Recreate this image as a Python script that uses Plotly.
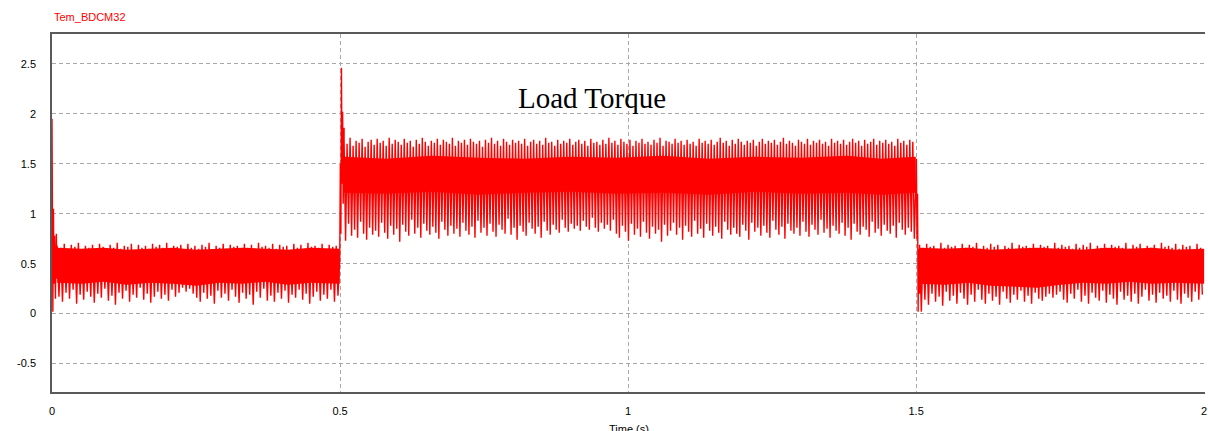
import plotly.graph_objects as go

# ---- Electromagnetic torque Tem_BDCM32 (N*m) vs time (s) ----

# start-up transient (time, torque)
start_t = [0.0, 0.0008, 0.0015, 0.0025, 0.0035, 0.0045, 0.006, 0.0075, 0.009]
start_v = [1.95, 1.20, 0.02, 1.05, 0.30, 0.78, 0.15, 0.80, 0.35]

# load step at 0.5 s
step_on_t = [0.4995, 0.5005, 0.5015, 0.5025, 0.5035, 0.5045, 0.5055, 0.507]
step_on_v = [0.55, 1.50, 0.80, 2.46, 1.30, 2.02, 1.10, 1.86]

# load removal at 1.5 s
step_off_t = [1.4995, 1.5005, 1.5015, 1.5025, 1.5035, 1.5045, 1.506]
step_off_v = [1.40, 1.55, 0.75, 1.20, 0.02, 0.65, 0.20]

# ripple segments: start, end, dense band limits, then cycle crests / troughs
seg1_span = [0.009, 0.4995]
seg1_band_t = [0.009, 0.05, 0.09, 0.13, 0.17, 0.21, 0.25, 0.29, 0.33, 0.37, 0.41, 0.45, 0.4995]
seg1_band_hi = [0.66, 0.65, 0.66, 0.64, 0.65, 0.66, 0.64, 0.65, 0.66, 0.65, 0.64, 0.66, 0.65]
seg1_band_lo = [0.31, 0.30, 0.32, 0.29, 0.31, 0.30, 0.28, 0.31, 0.30, 0.32, 0.29, 0.31, 0.30]
seg1_crest = [0.68, 0.66, 0.70, 0.65, 0.69, 0.67, 0.71, 0.64, 0.68, 0.66,
              0.69, 0.65, 0.70, 0.67, 0.64, 0.69, 0.66, 0.71, 0.65, 0.68,
              0.67, 0.70, 0.64, 0.69, 0.66, 0.68, 0.65, 0.70, 0.67, 0.69,
              0.66, 0.71, 0.65, 0.68, 0.67, 0.69, 0.64, 0.70, 0.66, 0.68,
              0.65, 0.69, 0.67, 0.71, 0.64, 0.68, 0.66, 0.70, 0.65, 0.69,
              0.67, 0.68, 0.64, 0.70, 0.66, 0.69, 0.65, 0.71, 0.67, 0.68,
              0.66, 0.70, 0.65, 0.69, 0.67, 0.68, 0.64, 0.70, 0.66, 0.69,
              0.65, 0.71, 0.67, 0.68, 0.66, 0.70, 0.64, 0.69, 0.67, 0.68]
seg1_trough = [0.17, 0.12, 0.21, 0.15, 0.24, 0.10, 0.19, 0.14, 0.22, 0.17,
               0.11, 0.20, 0.16, 0.25, 0.13, 0.18, 0.09, 0.21, 0.15, 0.23,
               0.12, 0.19, 0.16, 0.26, 0.14, 0.20, 0.11, 0.17, 0.22, 0.15,
               0.19, 0.13, 0.24, 0.17, 0.21, 0.26, 0.22, 0.25, 0.20, 0.16,
               0.12, 0.21, 0.15, 0.18, 0.10, 0.23, 0.16, 0.20, 0.13, 0.24,
               0.17, 0.11, 0.21, 0.15, 0.19, 0.09, 0.22, 0.16, 0.25, 0.13,
               0.18, 0.12, 0.21, 0.15, 0.23, 0.11, 0.19, 0.16, 0.24, 0.14,
               0.20, 0.10, 0.17, 0.22, 0.13, 0.19, 0.15, 0.24, 0.12, 0.18]

seg2_span = [0.507, 1.4995]
seg2_band_t = [0.507, 0.58, 0.66, 0.74, 0.82, 0.90, 0.98, 1.06, 1.14, 1.22, 1.30, 1.38, 1.44, 1.4995]
seg2_band_hi = [1.57, 1.55, 1.58, 1.56, 1.55, 1.57, 1.56, 1.58, 1.55, 1.57, 1.56, 1.58, 1.55, 1.57]
seg2_band_lo = [1.21, 1.20, 1.22, 1.19, 1.21, 1.22, 1.20, 1.21, 1.19, 1.22, 1.20, 1.21, 1.19, 1.21]
seg2_crest = [1.74, 1.70, 1.76, 1.68, 1.73, 1.71, 1.75, 1.67, 1.72, 1.74,
              1.69, 1.75, 1.71, 1.73, 1.68, 1.76, 1.70, 1.74, 1.72, 1.69,
              1.75, 1.71, 1.73, 1.67, 1.74, 1.70, 1.76, 1.72, 1.68, 1.73,
              1.71, 1.75, 1.69, 1.74, 1.72, 1.70, 1.76, 1.68, 1.73, 1.71,
              1.74, 1.69, 1.75, 1.72, 1.70, 1.73, 1.67, 1.74, 1.71, 1.76,
              1.70, 1.73, 1.68, 1.75, 1.72, 1.69, 1.74, 1.71, 1.73, 1.70,
              1.75, 1.68, 1.72, 1.74, 1.70, 1.73, 1.69, 1.76, 1.71, 1.72,
              1.68, 1.74, 1.70, 1.73, 1.71, 1.75, 1.69, 1.72, 1.74, 1.70,
              1.73, 1.68, 1.75, 1.71, 1.72, 1.69, 1.74, 1.70, 1.76, 1.71,
              1.73, 1.69, 1.75, 1.72, 1.70, 1.74, 1.68, 1.73, 1.71, 1.75,
              1.70, 1.72, 1.69, 1.74, 1.71, 1.76, 1.68, 1.73, 1.72, 1.70,
              1.75, 1.71, 1.73, 1.69, 1.74, 1.70, 1.72, 1.68, 1.75, 1.71,
              1.73, 1.70, 1.74, 1.69, 1.72, 1.76, 1.71, 1.73, 1.68, 1.74,
              1.70, 1.75, 1.72, 1.69, 1.73, 1.71, 1.74, 1.68, 1.72, 1.75,
              1.70, 1.73, 1.71, 1.74, 1.69, 1.72, 1.76, 1.70, 1.73, 1.71,
              1.68, 1.74, 1.72, 1.70, 1.75, 1.69, 1.73, 1.71, 1.74, 1.70,
              1.72, 1.68, 1.75, 1.71, 1.73, 1.70, 1.74, 1.69, 1.72, 1.75,
              1.71, 1.73, 1.68, 1.74, 1.70, 1.72, 1.75, 1.69, 1.73, 1.71,
              1.74, 1.70, 1.72, 1.68, 1.75, 1.71, 1.73, 1.69, 1.74, 1.72]
seg2_trough = [0.73, 0.90, 0.78, 0.84, 0.76, 0.92, 0.80, 0.74, 0.86, 0.79,
               0.83, 0.77, 0.91, 0.81, 0.75, 0.88, 0.79, 0.85, 0.72, 0.89,
               0.82, 0.78, 0.94, 0.80, 0.86, 0.76, 0.90, 0.83, 0.79, 0.87,
               0.81, 0.75, 0.92, 0.84, 0.78, 0.88, 0.80, 0.85, 0.77, 0.91,
               0.83, 0.79, 0.87, 0.76, 0.93, 0.81, 0.86, 0.78, 0.90, 0.82,
               0.77, 0.89, 0.84, 0.80, 0.95, 0.79, 0.86, 0.74, 0.88, 0.82,
               0.78, 0.91, 0.85, 0.80, 0.87, 0.76, 0.92, 0.83, 0.79, 0.89,
               0.84, 0.81, 0.94, 0.86, 0.82, 0.90, 0.85, 0.88, 0.83, 0.93,
               0.87, 0.84, 0.96, 0.86, 0.82, 0.91, 0.85, 0.89, 0.83, 0.94,
               0.80, 0.76, 0.88, 0.82, 0.73, 0.90, 0.79, 0.85, 0.77, 0.92,
               0.81, 0.75, 0.87, 0.80, 0.84, 0.72, 0.89, 0.78, 0.83, 0.91,
               0.79, 0.86, 0.74, 0.88, 0.82, 0.77, 0.93, 0.80, 0.85, 0.76,
               0.90, 0.83, 0.78, 0.87, 0.81, 0.75, 0.92, 0.84, 0.79, 0.86,
               0.80, 0.77, 0.89, 0.83, 0.74, 0.91, 0.82, 0.86, 0.78, 0.88,
               0.81, 0.76, 0.93, 0.84, 0.79, 0.87, 0.75, 0.90, 0.83, 0.80,
               0.86, 0.78, 0.92, 0.82, 0.77, 0.89, 0.84, 0.79, 0.94, 0.81,
               0.85, 0.76, 0.88, 0.83, 0.80, 0.91, 0.78, 0.86, 0.74, 0.90,
               0.82, 0.79, 0.87, 0.84, 0.77, 0.92, 0.81, 0.85, 0.78, 0.89,
               0.83, 0.80, 0.88, 0.76, 0.91, 0.84, 0.79, 0.86, 0.82, 0.75]

seg3_span = [1.506, 2.0]
seg3_band_t = [1.506, 1.55, 1.59, 1.63, 1.67, 1.71, 1.75, 1.79, 1.83, 1.87, 1.91, 1.95, 2.0]
seg3_band_hi = [0.66, 0.65, 0.66, 0.64, 0.65, 0.66, 0.65, 0.64, 0.66, 0.65, 0.66, 0.64, 0.65]
seg3_band_lo = [0.30, 0.29, 0.31, 0.28, 0.27, 0.26, 0.29, 0.31, 0.30, 0.32, 0.30, 0.31, 0.30]
seg3_crest = [0.69, 0.66, 0.70, 0.67, 0.68, 0.65, 0.71, 0.66, 0.69, 0.67,
              0.68, 0.64, 0.70, 0.66, 0.69, 0.67, 0.71, 0.65, 0.68, 0.66,
              0.70, 0.67, 0.69, 0.64, 0.68, 0.66, 0.71, 0.65, 0.69, 0.67,
              0.68, 0.66, 0.70, 0.65, 0.69, 0.67, 0.68, 0.64, 0.71, 0.66,
              0.69, 0.67, 0.68, 0.65, 0.70, 0.66, 0.69, 0.67, 0.71, 0.64,
              0.68, 0.66, 0.70, 0.65, 0.69, 0.67, 0.68, 0.66, 0.71, 0.65,
              0.69, 0.67, 0.70, 0.64, 0.68, 0.66, 0.69, 0.65, 0.71, 0.67,
              0.68, 0.66, 0.70, 0.65, 0.69, 0.67, 0.68, 0.64, 0.70, 0.66]
seg3_trough = [0.02, 0.14, 0.09, 0.20, 0.12, 0.17, 0.08, 0.22, 0.13, 0.18,
               0.10, 0.21, 0.15, 0.09, 0.19, 0.12, 0.24, 0.14, 0.10, 0.20,
               0.13, 0.17, 0.09, 0.22, 0.15, 0.11, 0.19, 0.14, 0.23, 0.12,
               0.18, 0.10, 0.21, 0.15, 0.13, 0.17, 0.20, 0.16, 0.19, 0.22,
               0.14, 0.11, 0.20, 0.15, 0.24, 0.12, 0.18, 0.10, 0.21, 0.16,
               0.13, 0.23, 0.11, 0.19, 0.15, 0.09, 0.22, 0.14, 0.18, 0.12,
               0.20, 0.10, 0.17, 0.24, 0.13, 0.19, 0.11, 0.21, 0.15, 0.18,
               0.12, 0.23, 0.14, 0.10, 0.20, 0.16, 0.12, 0.22, 0.14, 0.19]

y_tick_vals = [-0.5, 0, 0.5, 1, 1.5, 2, 2.5]
y_tick_text = ["-0.5", "0", "0.5", "1", "1.5", "2", "2.5"]
x_tick_vals = [0, 0.5, 1, 1.5, 2]
x_tick_text = ["0", "0.5", "1", "1.5", "2"]

RED = "#ff0000"
GRID = "#a8a8a8"
FRAME = "#5a5a5a"


def ripple_trace(span, crest, trough):
    """Alternate crest/trough samples at a fixed step across the segment."""
    n = len(crest)
    dt = (span[1] - span[0]) / n
    xs, ys = [], []
    for i in range(n):
        xs += [span[0] + i * dt, span[0] + (i + 0.5) * dt]
        ys += [crest[i], trough[i]]
    return xs, ys


def band_polygon(t, hi, lo):
    return t + t[::-1], hi + lo[::-1]


fig = go.Figure()

# dense ripple bands
for bt, bh, bl in [(seg1_band_t, seg1_band_hi, seg1_band_lo),
                   (seg2_band_t, seg2_band_hi, seg2_band_lo),
                   (seg3_band_t, seg3_band_hi, seg3_band_lo)]:
    px, py = band_polygon(bt, bh, bl)
    fig.add_trace(go.Scatter(x=px, y=py, mode="lines", fill="toself",
                             fillcolor=RED, line=dict(width=0, color=RED),
                             hoverinfo="skip", showlegend=False))

# full waveform: transients joined with the ripple cycles
t_all, v_all = list(start_t), list(start_v)
x1, y1 = ripple_trace(seg1_span, seg1_crest, seg1_trough)
t_all += x1; v_all += y1
t_all += step_on_t; v_all += step_on_v
x2, y2 = ripple_trace(seg2_span, seg2_crest, seg2_trough)
t_all += x2; v_all += y2
t_all += step_off_t; v_all += step_off_v
x3, y3 = ripple_trace(seg3_span, seg3_crest, seg3_trough)
t_all += x3; v_all += y3

fig.add_trace(go.Scatter(x=t_all, y=v_all, mode="lines",
                         line=dict(color=RED, width=1.4),
                         showlegend=False, name="Tem_BDCM32"))

fig.update_layout(
    width=1208, height=431,
    margin=dict(l=52, r=1, t=34, b=39),
    paper_bgcolor="white", plot_bgcolor="white",
    font=dict(family="Liberation Sans, Arial, sans-serif", size=11, color="black"),
    showlegend=False,
    xaxis=dict(range=[0, 2.0015], tickvals=x_tick_vals, ticktext=x_tick_text,
               showgrid=True, gridcolor=GRID, gridwidth=1, griddash="4px,3px",
               zeroline=False, showline=True, linecolor=FRAME, linewidth=1.5,
               mirror=True, ticks="", ticklabelstandoff=8,
               ticklabeloverflow="allow"),
    yaxis=dict(range=[-0.784, 2.798], tickvals=y_tick_vals, ticktext=y_tick_text,
               showgrid=True, gridcolor=GRID, gridwidth=1, griddash="4px,3px",
               zeroline=False, showline=True, linecolor=FRAME, linewidth=1.5,
               ticks="", ticklabelstandoff=12),
    annotations=[
        dict(text="Tem_BDCM32", xref="paper", yref="paper", x=0, y=1,
             xanchor="left", yanchor="bottom", yshift=9, showarrow=False,
             font=dict(family="Liberation Sans, Arial, sans-serif", size=11, color=RED)),
        dict(text="Time (s)", xref="paper", yref="paper", x=0.5, y=0,
             xanchor="center", yanchor="top", yshift=-29, showarrow=False,
             font=dict(family="Liberation Sans, Arial, sans-serif", size=11, color="black")),
        dict(text="Load Torque", xref="x", yref="y", x=0.9376, y=2.16,
             xanchor="center", yanchor="middle", showarrow=False,
             font=dict(family="Liberation Serif, Times New Roman, serif", size=29, color="black")),
    ],
)

fig.write_html("out.html")
